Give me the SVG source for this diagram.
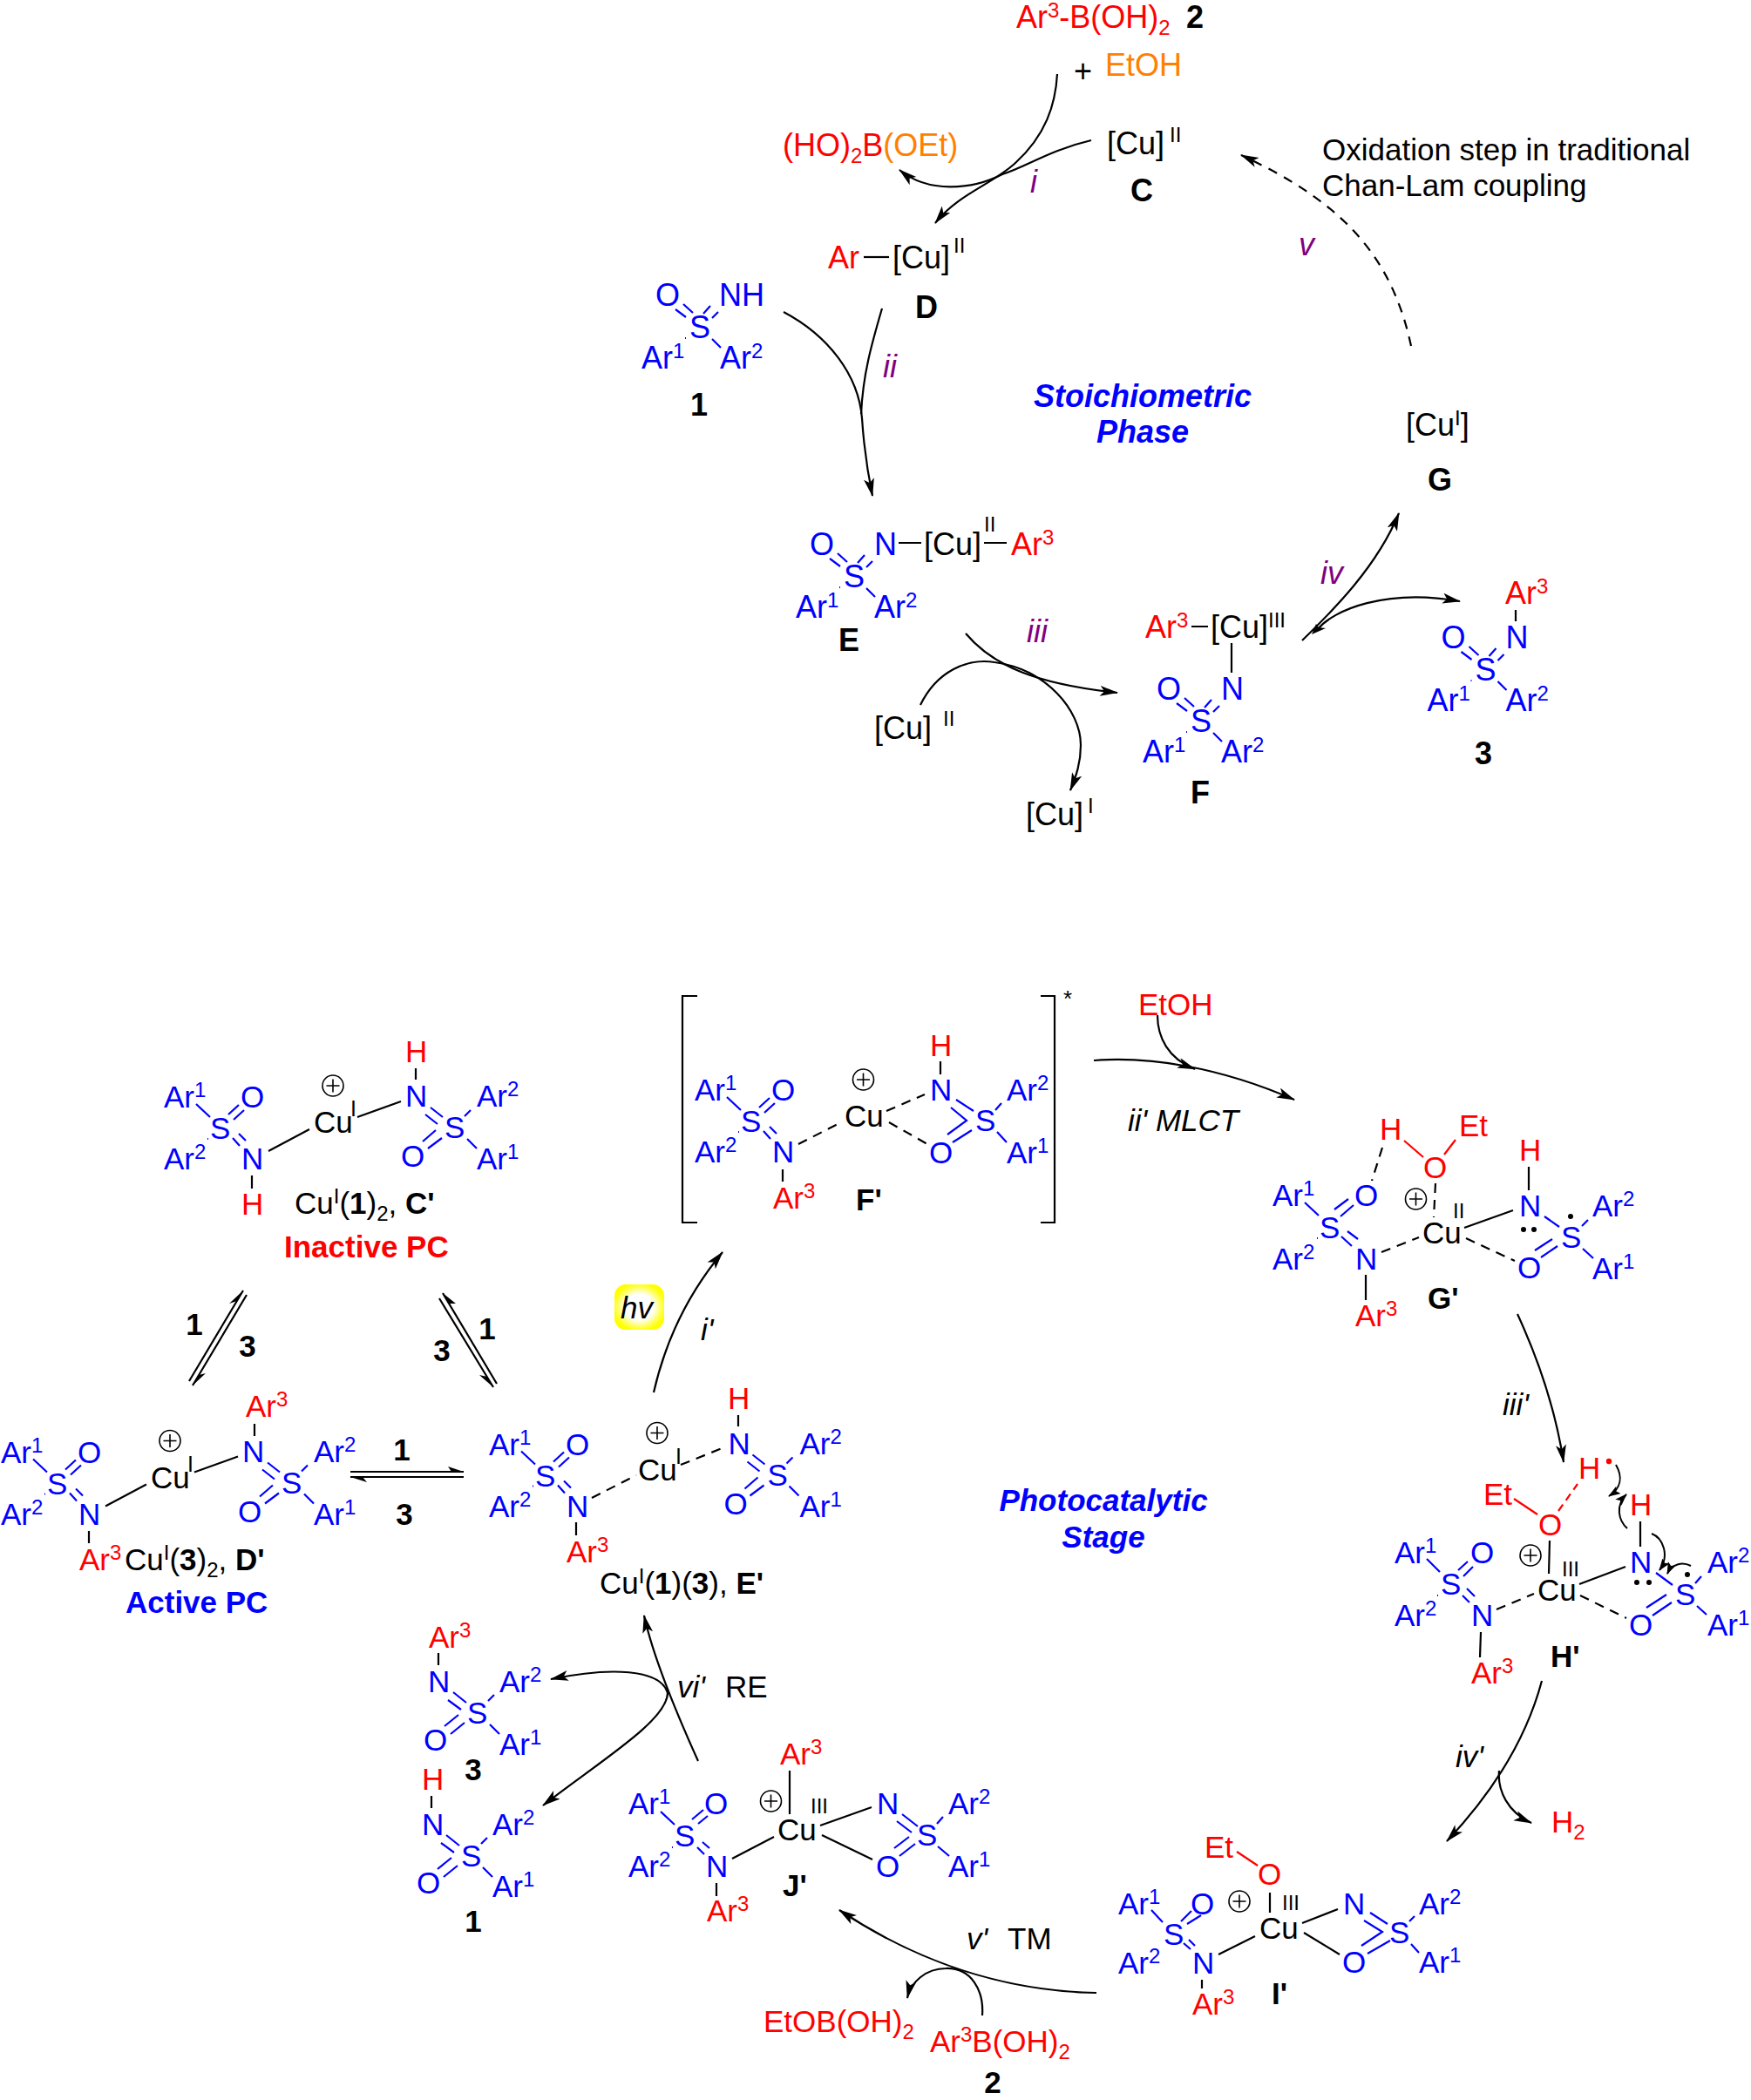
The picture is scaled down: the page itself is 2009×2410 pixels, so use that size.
<svg xmlns="http://www.w3.org/2000/svg" width="2009" height="2410" viewBox="0 0 2009 2410">
<style>
text{font-family:"Liberation Sans",Arial,sans-serif;font-size:35px;fill:#000}
#top text{font-size:36px}
#top text.x{font-size:35px}
.b{fill:#00f}.r{fill:#f00}.p{fill:#800080}
tspan.r{fill:#f00}tspan.o{fill:#ff8000}
text.o{fill:#ff8000}
.B{font-weight:bold}.i{font-style:italic}.m{text-anchor:middle}
.u{font-size:24px;baseline-shift:12px}
.d{font-size:24px;baseline-shift:-8px}
.bb,.kb,.rb,.kd,.rd,.c,.cd{fill:none;stroke-width:2.2}
.bb{stroke:#00f}.kb,.kd,.c,.cd{stroke:#000}.rb,.rd{stroke:#f00}
.kd{stroke-dasharray:11 8}
.rd{stroke-dasharray:9 6}
.cd{stroke-dasharray:11 9}
.c,.cd{marker-end:url(#a)}
.n{fill:none;stroke:#000;stroke-width:2.2}
.f{fill:none;stroke:#000;stroke-width:2;marker-end:url(#h)}
.ha{fill:#000}
.pc circle{fill:#fff;stroke:#000;stroke-width:1.6}
.pc path{stroke:#000;stroke-width:1.6;fill:none}
</style>
<defs>
<marker id="a" markerUnits="userSpaceOnUse" markerWidth="24" markerHeight="14" refX="20" refY="6" orient="auto"><path d="M21,6L0,0L5,6L0,12z" fill="#000"/></marker>
<marker id="h" markerUnits="userSpaceOnUse" markerWidth="16" markerHeight="12" refX="13" refY="5" orient="auto"><path d="M14,5L0,0L3,5L0,10z" fill="#000"/></marker>
<radialGradient id="y" cx="50%" cy="50%" r="62%"><stop offset="0" stop-color="#fff"/><stop offset=".45" stop-color="#fff"/><stop offset=".85" stop-color="#ff0"/><stop offset="1" stop-color="#ff0"/></radialGradient>
<g id="pl" class="pc"><circle r="12"/><path d="M-7.5,0H7.5M0,-7.5V7.5"/></g>
</defs>

<g id="top">
<g id="reagent2"><text class="r" x="1166" y="32">Ar<tspan class="u">3</tspan>-B(OH)<tspan class="d">2</tspan></text><text class="B" x="1361" y="32">2</text></g>
<g id="etoh"><text x="1232" y="94">+</text><text class="o" x="1268" y="87">EtOH</text></g>
<g id="borate"><text class="r" x="898" y="179">(HO)<tspan class="d">2</tspan>B<tspan class="o">(OEt)</tspan></text></g>
<g id="C"><text x="1270" y="177">[Cu]</text><text style="font-size:24px" x="1342" y="163">II</text><text class="B m" x="1310" y="231">C</text></g>
<g id="note"><text class="x" x="1517" y="184">Oxidation step in traditional</text><text class="x" x="1517" y="225">Chan-Lam coupling</text></g>
<g id="D"><text class="r" x="950" y="308">Ar</text><path class="kb" d="M991,295H1020"/><text x="1024" y="308">[Cu]</text><text style="font-size:24px" x="1094" y="290">II</text><text class="B m" x="1063" y="365">D</text></g>
<g id="cpd1">
<path class="bb" d="M775,355L787,364M784,349L795,359M815,351L807,360M824,358L817,365M817,389L827,399M786,388h1"/>
<text class="b" x="752" y="351">O</text><text class="b" x="825" y="351">NH</text><text class="b" x="791" y="388">S</text><text class="b" x="736" y="423">Ar<tspan class="u">1</tspan></text><text class="b" x="826" y="423">Ar<tspan class="u">2</tspan></text><text class="B m" x="802" y="477">1</text></g>
<g id="E"><g transform="translate(177,286)">
<path class="bb" d="M775,355L787,364M784,349L795,359M815,351L807,360M824,358L817,365M817,389L827,399M786,388h1"/>
<text class="b" x="752" y="351">O</text><text class="b" x="826" y="351">N</text><text class="b" x="791" y="388">S</text><text class="b" x="736" y="423">Ar<tspan class="u">1</tspan></text><text class="b" x="826" y="423">Ar<tspan class="u">2</tspan></text></g>
<path class="kb" d="M1031,623H1057M1129,623H1155"/><text x="1060" y="637">[Cu]</text><text style="font-size:24px" x="1129" y="610">II</text><text class="r" x="1160" y="637">Ar<tspan class="u">3</tspan></text><text class="B m" x="974" y="747">E</text></g>
<g id="F"><g transform="translate(575,452)">
<path class="bb" d="M775,355L787,364M784,349L795,359M815,351L807,360M824,358L817,365M817,389L827,399M786,388h1"/>
<text class="b" x="752" y="351">O</text><text class="b" x="826" y="351">N</text><text class="b" x="791" y="388">S</text><text class="b" x="736" y="423">Ar<tspan class="u">1</tspan></text><text class="b" x="826" y="423">Ar<tspan class="u">2</tspan></text></g>
<text class="r" x="1314" y="732">Ar<tspan class="u">3</tspan></text><path class="kb" d="M1367,719H1386M1413,738V772"/><text x="1389" y="732">[Cu]</text><text style="font-size:24px" x="1455" y="720">III</text><text class="B m" x="1377" y="922">F</text></g>
<g id="cpd3"><g transform="translate(901.5,393)">
<path class="bb" d="M775,355L787,364M784,349L795,359M815,351L807,360M824,358L817,365M817,389L827,399M786,388h1"/>
<text class="b" x="752" y="351">O</text><text class="b" x="826" y="351">N</text><text class="b" x="791" y="388">S</text><text class="b" x="736" y="423">Ar<tspan class="u">1</tspan></text><text class="b" x="826" y="423">Ar<tspan class="u">2</tspan></text></g>
<text class="r" x="1727" y="693">Ar<tspan class="u">3</tspan></text><path class="kb" d="M1739,700V713"/><text class="B m" x="1702" y="877">3</text></g>
<g id="G"><text x="1613" y="500">[Cu<tspan class="u">I</tspan>]</text><text class="B m" x="1652" y="563">G</text></g>
<g id="cuII"><text x="1003" y="848">[Cu]</text><text style="font-size:24px" x="1082" y="833">II</text></g>
<g id="cuI"><text x="1177" y="947">[Cu]</text><text style="font-size:24px" x="1248" y="933">I</text></g>
<g id="steps">
<text class="p i" x="1182" y="221">i</text><text class="p i" x="1013" y="433">ii</text><text class="p i" x="1178" y="737">iii</text><text class="p i" x="1515" y="670">iv</text><text class="p i" x="1490" y="293">v</text>
<text class="b B i m" x="1311" y="467">Stoichiometric</text><text class="b B i m" x="1311" y="508">Phase</text>
</g>
</g>

<g id="connectors">
<path class="c" d="M1213,85C1211,120 1200,155 1165,187C1138,212 1100,222 1073,256"/>
<path class="c" d="M1252,161C1205,172 1180,190 1150,200C1115,218 1065,222 1032,195"/>
<path class="c" d="M899,358C950,385 985,430 989,480C991,510 995,540 1001,569"/>
<path class="n" d="M1012,354C1000,395 990,430 988,475"/>
<path class="cd" d="M1619,397C1596,290 1536,230 1424,178"/>
<path class="c" d="M1108,727C1140,765 1190,785 1282,795"/>
<path class="c" d="M1056,809C1075,770 1110,755 1141,760C1200,768 1240,815 1240,855C1240,875 1235,890 1228,907"/>
<path class="c" d="M1494,735C1530,700 1580,650 1605,589"/>
<path class="c" d="M1512,722C1530,700 1590,675 1675,690"/>
<path class="ha" d="M1505,728L1510,716L1513,720L1521,721z"/>
<path class="n" d="M217,1585L279,1481M283,1486L221,1590M504,1490L566,1592M570,1588L508,1484M402,1689H532M532,1695H402"/>
<path class="ha" d="M279,1481L263,1496L272,1493zM221,1590L236,1576L228,1578zM566,1592L550,1578L559,1580zM508,1484L523,1496L515,1496zM532,1689L514,1683L518,1689zM402,1695L421,1701L416,1695z"/>
<path class="c" d="M750,1598C762,1545 785,1490 829,1437"/>
<path class="c" d="M1255,1217C1320,1212 1400,1225 1485,1262"/>
<path class="c" d="M1328,1165C1328,1190 1340,1215 1371,1227"/>
<path class="c" d="M1741,1508C1765,1560 1785,1620 1794,1678"/>
<path class="c" d="M1769,1929C1750,2000 1710,2060 1660,2113"/>
<path class="c" d="M1720,2032C1718,2055 1730,2080 1757,2092"/>
<path class="c" d="M1258,2287C1150,2285 1050,2250 963,2192"/>
<path class="c" d="M1127,2313C1129,2285 1115,2258 1085,2259C1062,2259 1045,2275 1041,2293"/>
<path class="c" d="M801,2021C778,1970 750,1905 739,1854"/>
<path class="c" d="M766,1943C758,1915 700,1913 632,1927"/>
<path class="c" d="M766,1943C765,1975 690,2020 623,2072"/>
<path class="f" d="M1854,1681C1862,1695 1860,1708 1846,1717"/>
<path class="f" d="M1867,1754C1857,1745 1853,1728 1866,1715"/>
<path class="f" d="M1895,1760C1908,1765 1916,1785 1904,1802"/>
<path class="f" d="M1940,1797C1930,1792 1918,1795 1913,1806"/>
</g>

<g id="C-prime">
<g id="Cp-l"><path class="bb" d="M225,1267L241,1282M262,1279L274,1268M268,1285L280,1274M267,1306L275,1315M274,1301L282,1309M238,1307h1"/>
<text class="b" x="188" y="1271">Ar<tspan class="u">1</tspan></text><text class="b" x="276" y="1271">O</text><text class="b" x="241" y="1307">S</text><text class="b" x="188" y="1342">Ar<tspan class="u">2</tspan></text><text class="b" x="277" y="1342">N</text></g>
<text class="r" x="277" y="1394">H</text><path class="kb" d="M289,1349V1364"/>
<g id="Cp-c"><text x="360" y="1300">Cu</text><text style="font-size:25px" x="402" y="1281">I</text><use href="#pl" x="382" y="1246"/><path class="kb" d="M308,1321L355,1296M410,1282L460,1264"/></g>
<g id="Cp-r"><path class="bb" d="M494,1271L508,1282M488,1279L502,1290M485,1310L500,1297M491,1318L507,1306M533,1281L540,1274M536,1307L547,1318"/>
<text class="b" x="465" y="1270">N</text><text class="b" x="510" y="1306">S</text><text class="b" x="460" y="1339">O</text><text class="b" x="547" y="1270">Ar<tspan class="u">2</tspan></text><text class="b" x="547" y="1342">Ar<tspan class="u">1</tspan></text></g>
<text class="r" x="465" y="1219">H</text><path class="kb" d="M477,1226V1239"/>
<text x="338" y="1393">Cu<tspan class="u">I</tspan>(<tspan class="B">1</tspan>)<tspan class="d">2</tspan>, <tspan class="B">C'</tspan></text>
<text class="r B" x="326" y="1443">Inactive PC</text>
</g>
<g id="eq-labels"><text class="B m" x="223" y="1532">1</text><text class="B m" x="284" y="1557">3</text><text class="B m" x="559" y="1537">1</text><text class="B m" x="507" y="1562">3</text><text class="B m" x="461" y="1676">1</text><text class="B m" x="464" y="1750">3</text></g>

<g id="D-prime"><g transform="translate(-187,407.5)">
<path class="bb" d="M225,1267L241,1282M262,1279L274,1268M268,1285L280,1274M267,1306L275,1315M274,1301L282,1309M238,1307h1"/>
<text class="b" x="188" y="1271">Ar<tspan class="u">1</tspan></text><text class="b" x="276" y="1271">O</text><text class="b" x="241" y="1307">S</text><text class="b" x="188" y="1342">Ar<tspan class="u">2</tspan></text><text class="b" x="277" y="1342">N</text>
<text x="360" y="1300">Cu</text><text style="font-size:25px" x="402" y="1281">I</text><use href="#pl" x="382" y="1246"/><path class="kb" d="M308,1321L355,1296M410,1282L460,1264"/>
<path class="bb" d="M494,1271L508,1282M488,1279L502,1290M485,1310L500,1297M491,1318L507,1306M533,1281L540,1274M536,1307L547,1318"/>
<text class="b" x="465" y="1270">N</text><text class="b" x="510" y="1306">S</text><text class="b" x="460" y="1339">O</text><text class="b" x="547" y="1270">Ar<tspan class="u">2</tspan></text><text class="b" x="547" y="1342">Ar<tspan class="u">1</tspan></text></g>
<text class="r" x="282" y="1626">Ar<tspan class="u">3</tspan></text><path class="kb" d="M292,1634V1648M102,1757V1771"/><text class="r" x="91" y="1802">Ar<tspan class="u">3</tspan></text>
<text x="143" y="1802">Cu<tspan class="u">I</tspan>(<tspan class="B">3</tspan>)<tspan class="d">2</tspan>, <tspan class="B">D'</tspan></text>
<text class="b B" x="144" y="1851">Active PC</text>
</g>

<g id="E-prime"><g transform="translate(373,398.5)">
<path class="bb" d="M225,1267L241,1282M262,1279L274,1268M268,1285L280,1274M267,1306L275,1315M274,1301L282,1309M238,1307h1"/>
<text class="b" x="188" y="1271">Ar<tspan class="u">1</tspan></text><text class="b" x="276" y="1271">O</text><text class="b" x="241" y="1307">S</text><text class="b" x="188" y="1342">Ar<tspan class="u">2</tspan></text><text class="b" x="277" y="1342">N</text>
<text x="359" y="1300">Cu</text><text style="font-size:25px" x="402" y="1281">I</text><use href="#pl" x="381" y="1246"/></g>
<g transform="translate(369.5,398.5)">
<path class="bb" d="M494,1271L508,1282M488,1279L502,1290M485,1310L500,1297M491,1318L507,1306M533,1281L540,1274M536,1307L547,1318"/>
<text class="b" x="466" y="1270">N</text><text class="b" x="511" y="1306">S</text><text class="b" x="461" y="1339">O</text><text class="b" x="548" y="1270">Ar<tspan class="u">2</tspan></text><text class="b" x="548" y="1342">Ar<tspan class="u">1</tspan></text></g>
<path class="kd" d="M679,1719L730,1693M781,1681L831,1661"/>
<text class="r" x="835" y="1617">H</text><path class="kb" d="M847,1624V1637M661,1747V1762"/><text class="r" x="650" y="1793">Ar<tspan class="u">3</tspan></text>
<text x="688" y="1829">Cu<tspan class="u">I</tspan>(<tspan class="B">1</tspan>)(<tspan class="B">3</tspan>), <tspan class="B">E'</tspan></text>
</g>

<g id="hv"><rect x="705" y="1474" width="57" height="52" rx="13" fill="url(#y)"/><text class="i" x="712" y="1513">hv</text></g>
<g id="labels"><text class="i" x="804" y="1538">i'</text><text class="i" x="1294" y="1298">ii' MLCT</text><text class="i" x="1724" y="1624">iii'</text><text class="i" x="1670" y="2028">iv'</text><text class="i" x="1109" y="2237">v'</text><text x="1156" y="2237">TM</text><text class="i" x="777" y="1948">vi'</text><text x="832" y="1948">RE</text><text class="r" x="1306" y="1165">EtOH</text><text class="r" x="1780" y="2103">H<tspan class="d">2</tspan></text>
<text class="b B i m" x="1266" y="1734">Photocatalytic</text><text class="b B i m" x="1266" y="1776">Stage</text></g>

<g id="F-prime">
<path class="n" d="M800,1143H783V1403H800M1194,1143H1210V1403H1194"/><text style="font-size:26px" x="1220" y="1155">*</text>
<g transform="translate(609,-8)"><path class="bb" d="M225,1267L241,1282M262,1279L274,1268M268,1285L280,1274M267,1306L275,1315M274,1301L282,1309M238,1307h1"/>
<text class="b" x="188" y="1271">Ar<tspan class="u">1</tspan></text><text class="b" x="276" y="1271">O</text><text class="b" x="241" y="1307">S</text><text class="b" x="188" y="1342">Ar<tspan class="u">2</tspan></text><text class="b" x="277" y="1342">N</text></g>
<text x="969" y="1293">Cu</text><use href="#pl" x="990.5" y="1239"/>
<path class="kd" d="M916,1313L965,1288M1017,1275L1061,1256M1020,1288L1064,1313"/>
<path class="kb" d="M898,1342V1356M1079,1218V1233"/>
<text class="r" x="887" y="1387">Ar<tspan class="u">3</tspan></text><text class="B" x="982" y="1389">F'</text>
<text class="r" x="1067" y="1212">H</text>
<path class="bb" d="M1097,1262L1117,1275M1091,1271L1109,1286L1087,1302M1093,1311L1115,1297M1142,1274L1149,1266M1144,1299L1155,1311"/>
<text class="b" x="1067" y="1263">N</text><text class="b" x="1119" y="1298">S</text><text class="b" x="1066" y="1335">O</text><text class="b" x="1155" y="1263">Ar<tspan class="u">2</tspan></text><text class="b" x="1155" y="1335">Ar<tspan class="u">1</tspan></text>
</g>

<g id="G-prime">
<text class="r" x="1583" y="1308">H</text><text class="r" x="1674" y="1304">Et</text><text class="r" x="1633" y="1352">O</text>
<path class="rb" d="M1611,1309L1633,1328M1670,1308L1657,1325"/>
<path class="kd" d="M1586,1317L1574,1355M1647,1358L1645,1397M1585,1437L1628,1420M1682,1421L1738,1447"/>
<use href="#pl" x="1624.5" y="1376"/>
<path class="bb" d="M1531,1388L1547,1376M1538,1396L1553,1383M1546,1413L1558,1422M1539,1419L1551,1430M1497,1380L1513,1395M1511,1421h1"/>
<text class="b" x="1554" y="1384">O</text><text class="b" x="1460" y="1384">Ar<tspan class="u">1</tspan></text><text class="b" x="1514" y="1421">S</text><text class="b" x="1460" y="1457">Ar<tspan class="u">2</tspan></text><text class="b" x="1555" y="1457">N</text>
<text x="1632" y="1427">Cu</text><text style="font-size:24px" x="1667" y="1398">II</text>
<path class="kb" d="M1567,1463V1492M1680,1409L1736,1389M1754,1339V1366"/>
<text class="r" x="1555" y="1522">Ar<tspan class="u">3</tspan></text><text class="B" x="1638" y="1502">G'</text>
<text class="b" x="1743" y="1396">N</text><text class="r" x="1743" y="1332">H</text>
<circle cx="1748" cy="1411" r="3"/><circle cx="1760" cy="1411" r="3"/><circle cx="1802" cy="1396" r="3"/>
<path class="bb" d="M1772,1396L1789,1408M1761,1435L1781,1422M1768,1443L1787,1430M1815,1407L1822,1400M1816,1433L1828,1444"/>
<text class="b" x="1791" y="1432">S</text><text class="b" x="1827" y="1396">Ar<tspan class="u">2</tspan></text><text class="b" x="1827" y="1468">Ar<tspan class="u">1</tspan></text><text class="b" x="1741" y="1467">O</text>
</g>

<g id="H-prime">
<text class="r" x="1811" y="1697">H</text><circle cx="1846" cy="1677" r="3.2" fill="#f00"/><text class="r" x="1702" y="1727">Et</text><text class="r" x="1765" y="1762">O</text><text class="r" x="1870" y="1739">H</text>
<path class="rd" d="M1788,1734L1810,1703"/><path class="rb" d="M1737,1720L1764,1738"/>
<path class="kb" d="M1778,1768L1777,1806M1699,1873L1698,1902M1812,1818L1865,1798M1882,1746V1775"/>
<use href="#pl" x="1756" y="1785"/>
<path class="bb" d="M1637,1789L1652,1804M1673,1802L1684,1792M1679,1809L1690,1798M1683,1823L1692,1832M1678,1831L1686,1839M1649,1831h1"/>
<text class="b" x="1600" y="1794">Ar<tspan class="u">1</tspan></text><text class="b" x="1687" y="1794">O</text><text class="b" x="1653" y="1830">S</text><text class="b" x="1600" y="1866">Ar<tspan class="u">2</tspan></text><text class="b" x="1688" y="1866">N</text>
<path class="kd" d="M1717,1847L1760,1829M1813,1831L1866,1857"/>
<text class="r" x="1688" y="1932">Ar<tspan class="u">3</tspan></text><text class="B" x="1779" y="1913">H'</text>
<text x="1764" y="1837">Cu</text><text style="font-size:24px" x="1792" y="1809">III</text>
<text class="b" x="1870" y="1805">N</text>
<circle cx="1878" cy="1816" r="3"/><circle cx="1892" cy="1816" r="3"/><circle cx="1936" cy="1807" r="3"/>
<path class="bb" d="M1900,1805L1919,1819M1889,1845L1912,1830M1896,1854L1918,1839M1945,1817L1952,1809M1947,1843L1958,1853"/>
<text class="b" x="1922" y="1842">S</text><text class="b" x="1959" y="1805">Ar<tspan class="u">2</tspan></text><text class="b" x="1959" y="1877">Ar<tspan class="u">1</tspan></text><text class="b" x="1869" y="1877">O</text>
</g>

<g id="I-prime">
<text class="r" x="1382" y="2132">Et</text><text class="r" x="1443" y="2163">O</text>
<path class="rb" d="M1419,2125L1443,2141"/>
<path class="kb" d="M1457,2172V2195M1398,2243L1440,2222M1379,2272V2282M1494,2207L1535,2191M1496,2218L1537,2243"/>
<text style="font-size:24px" x="1471" y="2192">III</text><use href="#pl" x="1422" y="2182"/>
<text x="1445" y="2225">Cu</text>
<path class="bb" d="M1321,2192L1334,2206M1355,2205L1367,2193M1362,2208L1378,2198M1364,2226L1371,2233M1358,2230L1366,2237"/>
<text class="b" x="1283" y="2197">Ar<tspan class="u">1</tspan></text><text class="b" x="1366" y="2197">O</text><text class="b" x="1335" y="2232">S</text><text class="b" x="1283" y="2265">Ar<tspan class="u">2</tspan></text><text class="b" x="1368" y="2265">N</text>
<text class="r" x="1368" y="2312">Ar<tspan class="u">3</tspan></text><text class="B" x="1459" y="2300">I'</text>
<path class="bb" d="M1572,2195L1592,2208M1565,2204L1586,2217L1562,2233M1569,2242L1595,2227M1617,2205L1623,2199M1619,2231L1628,2241"/>
<text class="b" x="1541" y="2197">N</text><text class="b" x="1540" y="2264">O</text><text class="b" x="1594" y="2230">S</text><text class="b" x="1628" y="2197">Ar<tspan class="u">2</tspan></text><text class="b" x="1628" y="2264">Ar<tspan class="u">1</tspan></text>
</g>

<g id="reagents"><text class="r" x="876" y="2332">EtOB(OH)<tspan class="d">2</tspan></text><text class="r" x="1067" y="2355">Ar<tspan class="u">3</tspan>B(OH)<tspan class="d">2</tspan></text><text class="B m" x="1139" y="2402">2</text></g>

<g id="J-prime">
<text class="r" x="895" y="2025">Ar<tspan class="u">3</tspan></text>
<path class="kb" d="M906,2032V2082M840,2133L888,2108M822,2161V2176M941,2095L1000,2074M943,2106L1001,2134"/>
<use href="#pl" x="884.5" y="2067"/><text style="font-size:24px" x="930" y="2081">III</text>
<text x="892" y="2112">Cu</text>
<path class="bb" d="M758,2079L774,2094M794,2088L807,2077M801,2093L812,2084M806,2114L814,2121M800,2120L808,2128M771,2120h1"/>
<text class="b" x="721" y="2082">Ar<tspan class="u">1</tspan></text><text class="b" x="808" y="2082">O</text><text class="b" x="774" y="2119">S</text><text class="b" x="721" y="2154">Ar<tspan class="u">2</tspan></text><text class="b" x="810" y="2154">N</text>
<text class="r" x="811" y="2205">Ar<tspan class="u">3</tspan></text><text class="B" x="898" y="2176">J'</text>
<path class="bb" d="M1035,2082L1053,2096M1029,2090L1046,2103M1026,2121L1043,2108M1032,2130L1050,2116M1075,2093L1082,2085M1076,2119L1089,2130"/>
<text class="b" x="1006" y="2082">N</text><text class="b" x="1005" y="2154">O</text><text class="b" x="1052" y="2118">S</text><text class="b" x="1088" y="2082">Ar<tspan class="u">2</tspan></text><text class="b" x="1088" y="2154">Ar<tspan class="u">1</tspan></text>
</g>

<g id="cpd3b">
<text class="r" x="492" y="1891">Ar<tspan class="u">3</tspan></text><path class="kb" d="M503,1897V1911"/>
<path class="bb" d="M520,1942L535,1954M514,1951L529,1962M510,1981L526,1968M517,1990L533,1977M560,1952L567,1945M562,1979L573,1990"/>
<text class="b" x="491" y="1942">N</text><text class="b" x="536" y="1978">S</text><text class="b" x="486" y="2009">O</text><text class="b" x="573" y="1942">Ar<tspan class="u">2</tspan></text><text class="b" x="573" y="2014">Ar<tspan class="u">1</tspan></text>
<text class="B m" x="543" y="2043">3</text>
</g>
<g id="cpd1b">
<text class="r" x="484" y="2054">H</text><path class="kb" d="M495,2061V2075"/>
<g transform="translate(-8,164)"><path class="bb" d="M520,1942L535,1954M514,1951L529,1962M510,1981L526,1968M517,1990L533,1977M560,1952L567,1945M562,1979L573,1990"/>
<text class="b" x="492" y="1942">N</text><text class="b" x="537" y="1978">S</text><text class="b" x="486" y="2009">O</text><text class="b" x="573" y="1942">Ar<tspan class="u">2</tspan></text><text class="b" x="573" y="2013">Ar<tspan class="u">1</tspan></text></g>
<text class="B m" x="543" y="2217">1</text>
</g>
</svg>
